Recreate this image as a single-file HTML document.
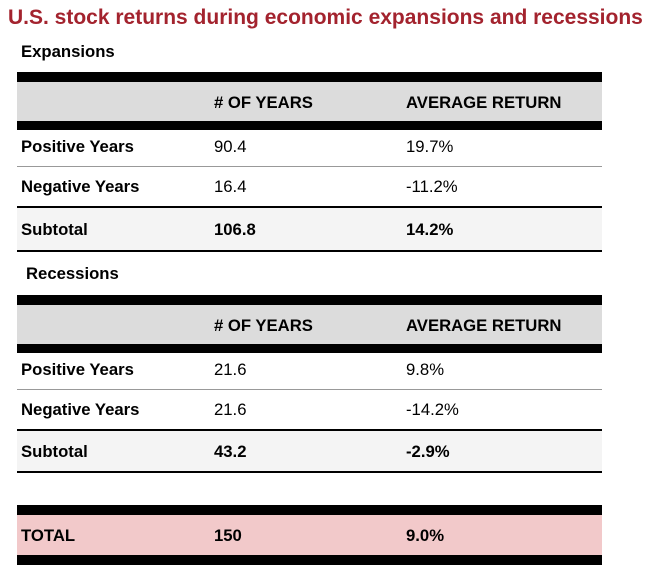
<!DOCTYPE html>
<html><head><meta charset="utf-8"><style>
body{margin:0;width:650px;height:578px;background:#fff;position:relative;font-family:"Liberation Sans",Arial,sans-serif;color:#000;overflow:hidden}
div{position:absolute}
.t{font-size:16.7px;line-height:18px;white-space:nowrap}
.b{font-weight:bold}
.bar{left:17px;width:585px;background:#000}
.bg{left:17px;width:585px}
</style></head><body>
<div class="t b" style="left:8px;top:6px;font-size:21px;line-height:24px;color:#a3232e">U.S. stock returns during economic expansions and recessions</div>
<div class="t b" style="left:21px;top:43px">Expansions</div>

<div class="bar" style="top:72px;height:10px"></div>
<div class="bg" style="top:82px;height:39px;background:#dcdcdc"></div>
<div class="bar" style="top:121px;height:9px"></div>
<div class="t b" style="left:214px;top:94px">#&nbsp;OF YEARS</div>
<div class="t b" style="left:406px;top:94px">AVERAGE RETURN</div>
<div class="t b" style="left:21px;top:138px">Positive Years</div>
<div class="t" style="left:214px;top:138px">90.4</div>
<div class="t" style="left:406px;top:138px">19.7%</div>
<div class="bg" style="top:166px;height:1px;background:#999"></div>
<div class="t b" style="left:21px;top:178px">Negative Years</div>
<div class="t" style="left:214px;top:178px">16.4</div>
<div class="t" style="left:406px;top:178px">-11.2%</div>
<div class="bar" style="top:206px;height:2px"></div>
<div class="bg" style="top:208px;height:42px;background:#f4f4f4"></div>
<div class="t b" style="left:21px;top:221px">Subtotal</div>
<div class="t b" style="left:214px;top:221px">106.8</div>
<div class="t b" style="left:406px;top:221px">14.2%</div>
<div class="bar" style="top:250px;height:2px"></div>

<div class="t b" style="left:26px;top:265px">Recessions</div>
<div class="bar" style="top:295px;height:10px"></div>
<div class="bg" style="top:305px;height:39px;background:#dcdcdc"></div>
<div class="bar" style="top:344px;height:9px"></div>
<div class="t b" style="left:214px;top:317px">#&nbsp;OF YEARS</div>
<div class="t b" style="left:406px;top:317px">AVERAGE RETURN</div>
<div class="t b" style="left:21px;top:361px">Positive Years</div>
<div class="t" style="left:214px;top:361px">21.6</div>
<div class="t" style="left:406px;top:361px">9.8%</div>
<div class="bg" style="top:389px;height:1px;background:#999"></div>
<div class="t b" style="left:21px;top:401px">Negative Years</div>
<div class="t" style="left:214px;top:401px">21.6</div>
<div class="t" style="left:406px;top:401px">-14.2%</div>
<div class="bar" style="top:429px;height:2px"></div>
<div class="bg" style="top:431px;height:40px;background:#f4f4f4"></div>
<div class="t b" style="left:21px;top:443px">Subtotal</div>
<div class="t b" style="left:214px;top:443px">43.2</div>
<div class="t b" style="left:406px;top:443px">-2.9%</div>
<div class="bar" style="top:471px;height:2px"></div>

<div class="bar" style="top:505px;height:10px"></div>
<div class="bg" style="top:515px;height:40px;background:#f2c9ca"></div>
<div class="bar" style="top:555px;height:10px"></div>
<div class="t b" style="left:21px;top:527px">TOTAL</div>
<div class="t b" style="left:214px;top:527px">150</div>
<div class="t b" style="left:406px;top:527px">9.0%</div>
</body></html>
